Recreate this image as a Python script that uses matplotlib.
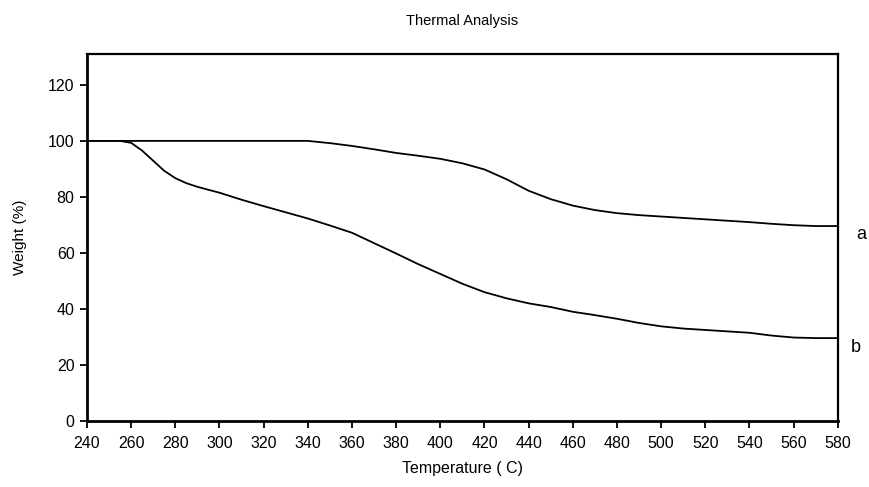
import matplotlib
matplotlib.use('agg')
import matplotlib.pyplot as plt

plt.rcParams['font.family'] = ['Liberation Sans', 'DejaVu Sans']

# curve a
temp_a = [240, 260, 280, 300, 320, 340, 350, 360, 370, 380, 390, 400, 410, 420,
          430, 440, 450, 460, 470, 480, 490, 500, 510, 520, 530, 540, 550, 560,
          570, 580]
weight_a = [100, 100, 100, 100, 100, 100, 99.2, 98.2, 97.0, 95.7, 94.7, 93.6, 92.0,
            89.8, 86.3, 82.2, 79.2, 76.9, 75.3, 74.2, 73.5, 73.0, 72.5, 72.0, 71.5,
            71.0, 70.4, 69.9, 69.6, 69.6]

# curve b
temp_b = [240, 250, 255, 260, 265, 270, 275, 280, 285, 290, 300, 310, 320, 330,
          340, 350, 360, 370, 380, 390, 400, 410, 420, 430, 440, 450, 460, 470,
          480, 490, 500, 510, 520, 530, 540, 550, 560, 570, 580]
weight_b = [100, 100, 100, 99.3, 96.5, 92.9, 89.3, 86.7, 84.9, 83.6, 81.5, 79.0,
            76.7, 74.5, 72.3, 69.8, 67.2, 63.5, 59.8, 56.0, 52.5, 49.0, 46.0, 43.8,
            42.0, 40.7, 39.0, 37.8, 36.5, 35.0, 33.8, 33.0, 32.5, 32.0, 31.5, 30.5,
            29.8, 29.6, 29.6]

xticks = list(range(240, 581, 20))
yticks = list(range(0, 121, 20))

fig = plt.figure(figsize=(8.7, 4.87), dpi=100)
ax = fig.add_axes([0.1, 0.1355, 0.863, 0.7535])

ax.plot(temp_a, weight_a, color='black', lw=1.3)
ax.plot(temp_b, weight_b, color='black', lw=1.3)

ax.set_xlim(240, 580)
ax.set_ylim(0, 131)
ax.set_xticks(xticks)
ax.set_yticks(yticks)
ax.tick_params(direction='out', length=5, width=1.3, labelsize=11.5, pad=4)
ax.tick_params(axis='x', pad=6)

for s in ['left', 'bottom']:
    ax.spines[s].set_linewidth(2)
for s in ['top', 'right']:
    ax.spines[s].set_linewidth(1.6)

ax.text(1.025, weight_a[-1] - 3, 'a', transform=ax.get_yaxis_transform(),
        fontsize=13, ha='left', va='center')
ax.text(1.017, weight_b[-1] - 3.5, 'b', transform=ax.get_yaxis_transform(),
        fontsize=13, ha='left', va='center')

ax.set_title('Thermal Analysis', fontsize=10.5, pad=21)
ax.set_xlabel('Temperature ( C)', fontsize=11.5, labelpad=7)
ax.set_ylabel('Weight (%)', fontsize=11, labelpad=15)

plt.savefig('out.png', dpi=100)
plt.close()
